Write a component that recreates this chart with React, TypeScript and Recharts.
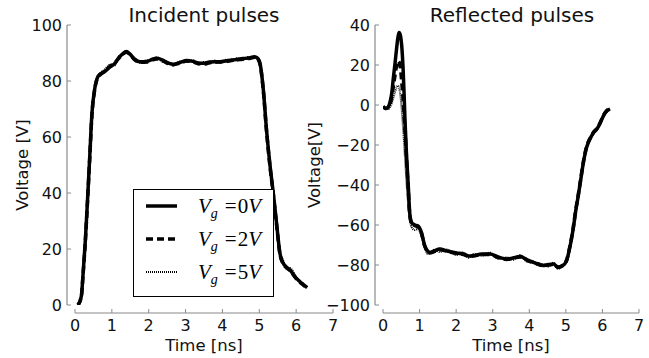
import React from 'react';
import { LineChart, Line, XAxis, YAxis, Legend } from 'recharts';

// ---------- data ----------
const incidentTime = [0.08, 0.17, 0.22, 0.28, 0.33, 0.40, 0.46, 0.53, 0.62, 0.70, 0.80, 0.95, 1.08, 1.20, 1.30, 1.39, 1.48, 1.60, 1.76, 1.95, 2.10, 2.22, 2.40, 2.55, 2.67, 2.85, 3.03, 3.20, 3.35, 3.48, 3.65, 3.80, 3.93, 4.10, 4.25, 4.39, 4.55, 4.70, 4.88, 4.96, 5.02, 5.11, 5.20, 5.29, 5.38, 5.47, 5.56, 5.65, 5.74, 5.83, 6.01, 6.15, 6.30];
const incidentVg0 = [0, 3, 11.3, 23, 35, 53, 68.5, 76.8, 81.5, 82.6, 83.3, 85, 86.3, 88.5, 89.8, 90.5, 89.8, 88, 86.9, 87, 87.8, 88.1, 87.3, 86.3, 86, 86.6, 87.3, 87, 86.4, 86.3, 86.8, 86.9, 86.9, 87.2, 87.5, 87.7, 88, 88.2, 88.7, 88, 86.3, 76.8, 62, 50, 40, 29, 18.5, 14.9, 13.5, 12.5, 9.5, 7.8, 6.2];
const incidentVg2 = [0, 2.8, 11, 22.5, 34.5, 52.5, 68, 76.5, 81.3, 82.4, 83.5, 85.2, 86.5, 88.3, 89.6, 90.3, 89.6, 87.8, 86.7, 86.8, 87.6, 87.9, 87.1, 86.1, 85.8, 86.4, 87.1, 86.8, 86.2, 86.0, 86.5, 86.7, 86.8, 87.0, 87.3, 87.5, 87.8, 88.0, 88.5, 87.8, 86.0, 76.5, 61.5, 49.5, 39.5, 28.5, 18.2, 14.7, 13.3, 12.3, 9.3, 7.6, 6.0];
const incidentVg5 = [0, 3.2, 11.6, 23.4, 35.5, 53.5, 69, 77, 81.8, 83, 84, 85.8, 85.6, 88.9, 89.4, 90.8, 89.3, 88.4, 86.4, 87.4, 87.3, 88.5, 86.8, 86.7, 85.5, 87, 86.8, 87.4, 85.9, 86.8, 86.3, 87.3, 86.5, 87.6, 87.1, 88.1, 87.6, 88.6, 88.3, 88.4, 86.6, 77.2, 62.5, 50.5, 40.5, 29.5, 19, 15.8, 13, 13.2, 9.8, 8, 6.4];

const reflectedTime = [0.00, 0.08, 0.14, 0.19, 0.24, 0.28, 0.33, 0.37, 0.41, 0.44, 0.48, 0.51, 0.55, 0.58, 0.60, 0.64, 0.69, 0.73, 0.78, 0.87, 0.96, 1.05, 1.14, 1.22, 1.28, 1.40, 1.55, 1.75, 2.01, 2.20, 2.35, 2.47, 2.70, 2.92, 3.15, 3.38, 3.55, 3.75, 3.95, 4.11, 4.25, 4.38, 4.52, 4.66, 4.79, 4.90, 5.02, 5.10, 5.20, 5.27, 5.34, 5.41, 5.48, 5.57, 5.66, 5.75, 5.85, 5.94, 6.03, 6.12, 6.21];
const reflectedVg0 = [-0.7, -1.7, -1, 1.3, 6, 13, 21, 28, 34, 36.3, 34.5, 30, 18, 4, -7, -23.7, -40, -53.7, -58.7, -60, -60.5, -63.7, -70.3, -73, -73.7, -73, -72, -73, -74, -74.5, -75.5, -75.3, -74.5, -74.5, -76, -77, -76.5, -75.8, -77.5, -78.7, -79.5, -80.3, -79.8, -79.5, -81.2, -80.5, -77.8, -72, -62, -53, -45.3, -37, -28.7, -21, -17, -14, -12, -9, -5.3, -3, -2];
const reflectedVg2 = [-0.8, -1.8, -1.2, 0.5, 4, 9, 15, 19.5, 22, 21.5, 18, 12, 3, -6, -12, -26, -42, -54.5, -59, -60.3, -61, -64, -70.5, -73.2, -73.9, -73.3, -72.3, -73.2, -74.2, -74.8, -75.6, -75.5, -74.7, -74.8, -76.2, -77.2, -76.6, -76, -77.7, -78.9, -79.6, -80.4, -80, -79.7, -81, -80.3, -77.5, -71.5, -61.5, -52.5, -44.8, -36.5, -28.3, -20.6, -16.7, -13.7, -11.7, -8.7, -5, -2.8, -1.8];
const reflectedVg5 = [-1, -2, -2, -1, 1, 3.5, 6.5, 8.8, 9.7, 8.5, 4, -2, -12, -20, -26, -38, -50, -57, -61, -62.5, -62, -65.5, -71, -74.5, -74.2, -72.4, -73.5, -72.3, -75, -73.8, -76.4, -74.6, -75.4, -73.8, -77, -76.2, -77.4, -75, -78.4, -78, -80.4, -79.6, -80.8, -78.8, -82, -80, -78.6, -72.8, -62.8, -53.6, -46, -37.6, -29.2, -21.6, -17.5, -14.6, -12.4, -9.5, -5.8, -3.4, -2.3];

const timeTicks = [0, 1, 2, 3, 4, 5, 6, 7];
const incidentTicks = [0, 20, 40, 60, 80, 100];
const reflectedTicks = [-100, -80, -60, -40, -20, 0, 20, 40];
const gateVoltages = ['0', '2', '5'];
const seriesKeys = ['v0', 'v2', 'v5'];

// ---------- styles ----------
const FONT = 'DejaVu Sans';
const SPINE = '#8a8a8a';
const seriesStyles = [
  { width: 3.5, dash: undefined as string | undefined },
  { width: 3.5, dash: '7 4' },
  { width: 2, dash: '1 1' },
];

function buildRows(time: number[], a: number[], b: number[], c: number[]) {
  return time.map((t, i) => ({ t, v0: a[i], v2: b[i], v5: c[i] }));
}
const incidentRows = buildRows(incidentTime, incidentVg0, incidentVg2, incidentVg5);
const reflectedRows = buildRows(reflectedTime, reflectedVg0, reflectedVg2, reflectedVg5);

const fmt = (v: number) => (v < 0 ? `\u2212${Math.abs(v)}` : `${v}`);

const YLabel = (props: any) => {
  const vb = props.viewBox || { x: 0, y: 25, width: 67, height: 288 };
  const x = vb.x + props.dx0;
  const y = vb.y + (vb.height - 8) / 2;
  return (
    <text x={x} y={y} transform={`rotate(-90 ${x} ${y})`} textAnchor="middle" dominantBaseline="central"
      fontFamily={FONT} fontSize={16.5} fill="#111">{props.text}</text>
  );
};

const XLabel = (props: any) => {
  const vb = props.viewBox || { x: 67, y: 313, width: 266, height: 45 };
  const x = vb.x + 8 + (vb.width - 8) / 2;
  const y = vb.y + 38;
  return (
    <text x={x} y={y} textAnchor="middle" fontFamily={FONT} fontSize={16.5} fill="#111">{props.text}</text>
  );
};

const LegendBox = () => (
  <svg width={141} height={108} style={{ display: 'block' }}>
    <rect x={0.5} y={0.5} width={140} height={107} fill="#fff" stroke="#000" strokeWidth={1} />
    {seriesStyles.map((s, i) => {
      const cy = 17 + i * 33;
      return (
        <g key={i}>
          <line x1={13} x2={44} y1={cy} y2={cy} stroke="#000" strokeWidth={s.width} strokeDasharray={s.dash} />
          <text x={65} y={cy + 7} fontFamily="Liberation Serif" fontSize={21} fill="#000">
            <tspan fontStyle="italic">V</tspan>
            <tspan fontStyle="italic" fontSize={14} dy={5}>g</tspan>
            <tspan dx={7} dy={-5}>=</tspan>
            <tspan dx={1}>{gateVoltages[i]}</tspan>
            <tspan fontStyle="italic">V</tspan>
          </text>
        </g>
      );
    })}
  </svg>
);

function Panel(props: {
  rows: any[]; domain: [number, number]; yTicks: number[]; width: number; yAxisWidth: number;
  marginRight: number; yLabel: string; yLabelX: number; legend?: boolean;
}) {
  return (
    <LineChart width={props.width} height={358} data={props.rows}
      margin={{ top: 25, right: props.marginRight, bottom: 0, left: 0 }}>
      <XAxis dataKey="t" type="number" domain={[0, 7]} ticks={timeTicks} interval={0}
        padding={{ left: 8, right: 0 }} height={45} allowDataOverflow
        axisLine={{ stroke: SPINE, strokeWidth: 1.2, strokeDasharray: '0 8 400' }}
        tickLine={{ stroke: SPINE, strokeWidth: 1 }} tickSize={-4} tickMargin={11}
        tick={{ fill: '#111', fontSize: 16, fontFamily: FONT }}
        label={<XLabel text="Time [ns]" />} />
      <YAxis type="number" domain={props.domain} ticks={props.yTicks} interval={0}
        padding={{ top: 0, bottom: 8 }} width={props.yAxisWidth} allowDataOverflow
        axisLine={{ stroke: SPINE, strokeWidth: 1.2, strokeDasharray: '280 100' }}
        tickLine={{ stroke: SPINE, strokeWidth: 1 }} tickSize={-4} tickMargin={9}
        tickFormatter={fmt}
        tick={{ fill: '#111', fontSize: 16, fontFamily: FONT }}
        label={<YLabel text={props.yLabel} dx0={props.yLabelX} />} />
      {seriesKeys.map((k, i) => (
        <Line key={k} dataKey={k} type="monotone" stroke="#000" strokeWidth={seriesStyles[i].width}
          strokeDasharray={seriesStyles[i].dash} dot={false} activeDot={false}
          isAnimationActive={false} />
      ))}
      {props.legend && (
        <Legend layout="vertical" align="center" verticalAlign="middle"
          wrapperStyle={{ position: 'absolute', left: 133, top: 189, width: 141, height: 108 }}
          content={() => <LegendBox />} />
      )}
    </LineChart>
  );
}

const titleStyle: React.CSSProperties = {
  position: 'absolute', top: 5, fontFamily: FONT, fontSize: 20, lineHeight: '20px',
  color: '#111', whiteSpace: 'nowrap', transform: 'translateX(-50%)',
};

export default function App() {
  return (
    <div style={{ position: 'absolute', left: 0, top: 0, width: 649, height: 358, background: '#fff', overflow: 'hidden' }}>
      <div style={{ position: 'absolute', left: 0, top: 0 }}>
        <Panel rows={incidentRows} domain={[0, 100]} yTicks={incidentTicks} width={340} yAxisWidth={67}
          marginRight={7} yLabel="Voltage [V]" yLabelX={22} legend />
      </div>
      <div style={{ position: 'absolute', left: 290, top: 0 }}>
        <Panel rows={reflectedRows} domain={[-100, 40]} yTicks={reflectedTicks} width={359} yAxisWidth={85}
          marginRight={10} yLabel="Voltage[V]" yLabelX={24} />
      </div>
      <div style={{ ...titleStyle, left: 204 }}>Incident pulses</div>
      <div style={{ ...titleStyle, left: 512 }}>Reflected pulses</div>
    </div>
  );
}
